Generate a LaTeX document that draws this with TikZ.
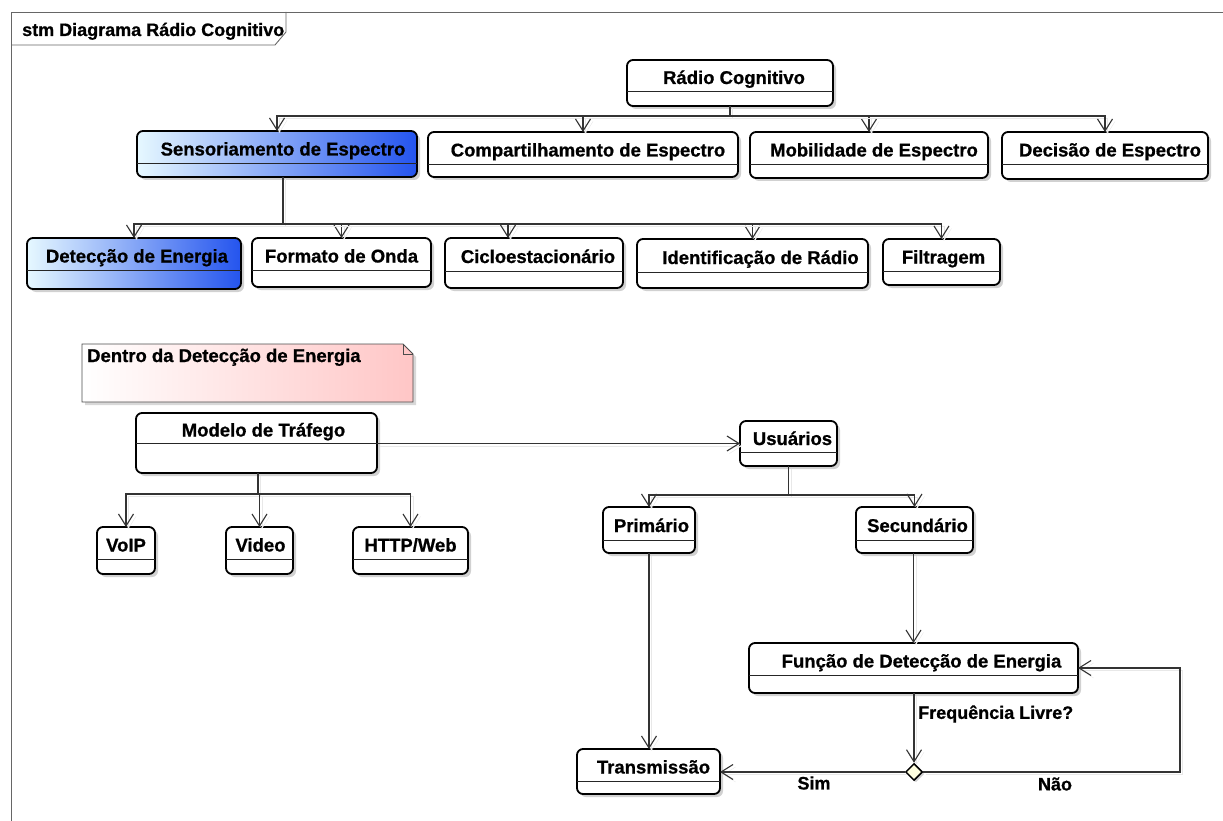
\documentclass[tikz,border=0pt]{standalone}
\usepackage{fontspec}
\setmainfont{Liberation Sans}[BoldFeatures={FakeBold=0.8}]
\usetikzlibrary{arrows.meta,shapes.geometric,shadows,calc}
\definecolor{gradL}{HTML}{E6F8FF}
\definecolor{gradR}{HTML}{2454EE}
\definecolor{noteR}{HTML}{FFC6C6}
\definecolor{decF}{HTML}{FFFFE0}
\definecolor{lineC}{HTML}{333333}
\definecolor{frameC}{HTML}{666666}
\tikzset{
 umlbox/.style={draw=black, line width=1.8pt, rounded corners=6pt, inner sep=0pt, outer sep=0pt, fill=white,
   drop shadow={shadow xshift=3pt, shadow yshift=-3pt, fill=black!30, opacity=0.6}},
 gradbox/.style={left color=gradL, right color=gradR},
 divline/.style={line width=0.9pt, draw=black!85},
 boxtext/.style={font=\bfseries\fontsize{18.5}{20}\selectfont, inner sep=0pt, anchor=base},
 conn/.style={draw=lineC, line width=1.1pt, -{Straight Barb[length=12pt,width=15pt]},
   preaction={draw=black!9, transform canvas={shift={(2.5pt,-2.5pt)}}}},
 trunk/.style={draw=black, line width=2.6pt},
 lbl/.style={font=\bfseries\fontsize{18}{20}\selectfont, inner sep=0pt},
 framec/.style={draw=frameC, line width=0.9pt},
 decision/.style={diamond, draw=black, line width=1.5pt, fill=decF, minimum width=17pt, minimum height=17pt, inner sep=0pt,
   drop shadow={shadow xshift=2pt, shadow yshift=-2pt, fill=black!30, opacity=0.6}},
}
\newcommand\umlstate[9]{%
 \node[umlbox,#8, minimum width={(#4-#2)*1pt}, minimum height={(#5-#3)*1pt}] (#1) at ({(#2+#4)/2},{(#3+#5)/2}) {};
 \draw[divline] (#2,#6) -- (#4,#6);
 \node[boxtext] (#1t) at ({(#2+#4)/2+#9},{(#3+#6)/2+8.5}) {#7};
}
\begin{document}
\begin{tikzpicture}[x=1pt,y=-1pt]
\useasboundingbox (0,0) rectangle (1223,821);
% frame
\draw[framec] (11,821) -- (11,12) -- (1223,12);
\draw[framec] (11,45) -- (275,45) -- (286,32) -- (286,12);
\node[lbl, anchor=base west] (title) at (22,36) {stm Diagrama Rádio Cognitivo};

% top level
\umlstate{rc}{627}{60}{833}{106}{91}{Rádio Cognitivo}{}{4}
\umlstate{se}{137}{131}{417}{177}{163}{Sensoriamento de Espectro}{gradbox}{6}
\umlstate{cs}{428}{132}{738}{177}{164}{Compartilhamento de Espectro}{}{5}
\umlstate{mo}{750}{132}{988}{178}{164}{Mobilidade de Espectro}{}{5}
\umlstate{de}{1002}{132}{1208}{179}{164}{Decisão de Espectro}{}{5}

% second level
\umlstate{ed}{27}{238}{241}{289}{270}{Detecção de Energia}{gradbox}{3}
\umlstate{fo}{252}{238}{431}{287}{270}{Formato de Onda}{}{0}
\umlstate{ci}{445}{238}{623}{288}{271}{Cicloestacionário}{}{4}
\umlstate{id}{637}{239}{868}{288}{272}{Identificação de Rádio}{}{8}
\umlstate{fi}{883}{239}{1000}{285}{271}{Filtragem}{}{2}

% note
\path[draw=black!70, line width=0.8pt, left color=white, right color=noteR,
  drop shadow={shadow xshift=3pt, shadow yshift=-3pt, fill=black!30, opacity=0.5}]
  (82,344) -- (403,344) -- (413,354) -- (413,402) -- (82,402) -- cycle;
\draw[draw=black!70, line width=0.8pt] (403,344) -- (403,354) -- (413,354);
\node[boxtext, anchor=base west] (notet) at (87,362) {Dentro da Detecção de Energia};

% traffic model
\umlstate{mt}{136}{413}{377}{473}{443}{Modelo de Tráfego}{}{7}
\umlstate{vo}{97}{527}{155}{574}{559}{VoIP}{}{0}
\umlstate{vi}{226}{527}{293}{574}{559}{Video}{}{1}
\umlstate{ht}{353}{527}{468}{574}{559}{HTTP/Web}{}{0}

% users
\umlstate{us}{740}{421}{837}{466}{452}{Usuários}{}{4}
\umlstate{pr}{603}{507}{695}{553}{540}{Primário}{}{2.5}
\umlstate{sc}{856}{507}{973}{553}{540}{Secundário}{}{3}
\umlstate{fn}{749}{643}{1078}{693}{675}{Função de Detecção de Energia}{}{8}
\umlstate{tr}{577}{749}{720}{794}{781}{Transmissão}{}{5}
\node[decision] (dm) at (914,772) {};
\coordinate (loopc) at (1180,772);

% connectors top
\foreach \t in {se,cs,mo,de}
  \draw[conn] (rc.south) -- ++(0,10) -| (\t.north);

% connectors second level
\draw[trunk] ([xshift=6pt]se.south) -- ++(0,47);
\foreach \t in {ed,fo,id,fi}
  \draw[conn] ([xshift=6pt]se.south) -- ++(0,47) -| (\t.north);
\draw[conn] ([xshift=6pt]se.south) -- ++(0,47) -| ([xshift=-26pt]ci.north);

% traffic model connectors
\draw[trunk] ([xshift=1.5pt]mt.south) -- ++(0,21);
\foreach \t in {vo,vi,ht}
  \draw[conn] ([xshift=1.5pt]mt.south) -- ++(0,21) -| (\t.north);
\draw[conn] (mt.east |- us.west) -- (us.west);

% users connectors
\foreach \t in {pr,sc}
  \draw[conn] (us.south) -- ++(0,29) -| (\t.north);
\draw[conn] (pr.south) -- (pr.south |- tr.north);
\draw[conn] (sc.south -| fn.north) -- (fn.north);
\draw[conn] (fn.south -| dm.north) -- (dm.north);
\draw[conn] (dm.west) -- (tr.east |- dm.west);
\draw[conn] (dm.east) -- (loopc) |- (fn.east);

% labels
\node[lbl, anchor=west] (flq) at (918,714) {Frequência Livre?};
\node[lbl] (sim) at (814,783) {Sim};
\node[lbl] (nao) at (1055,784) {Não};
\end{tikzpicture}
\end{document}
